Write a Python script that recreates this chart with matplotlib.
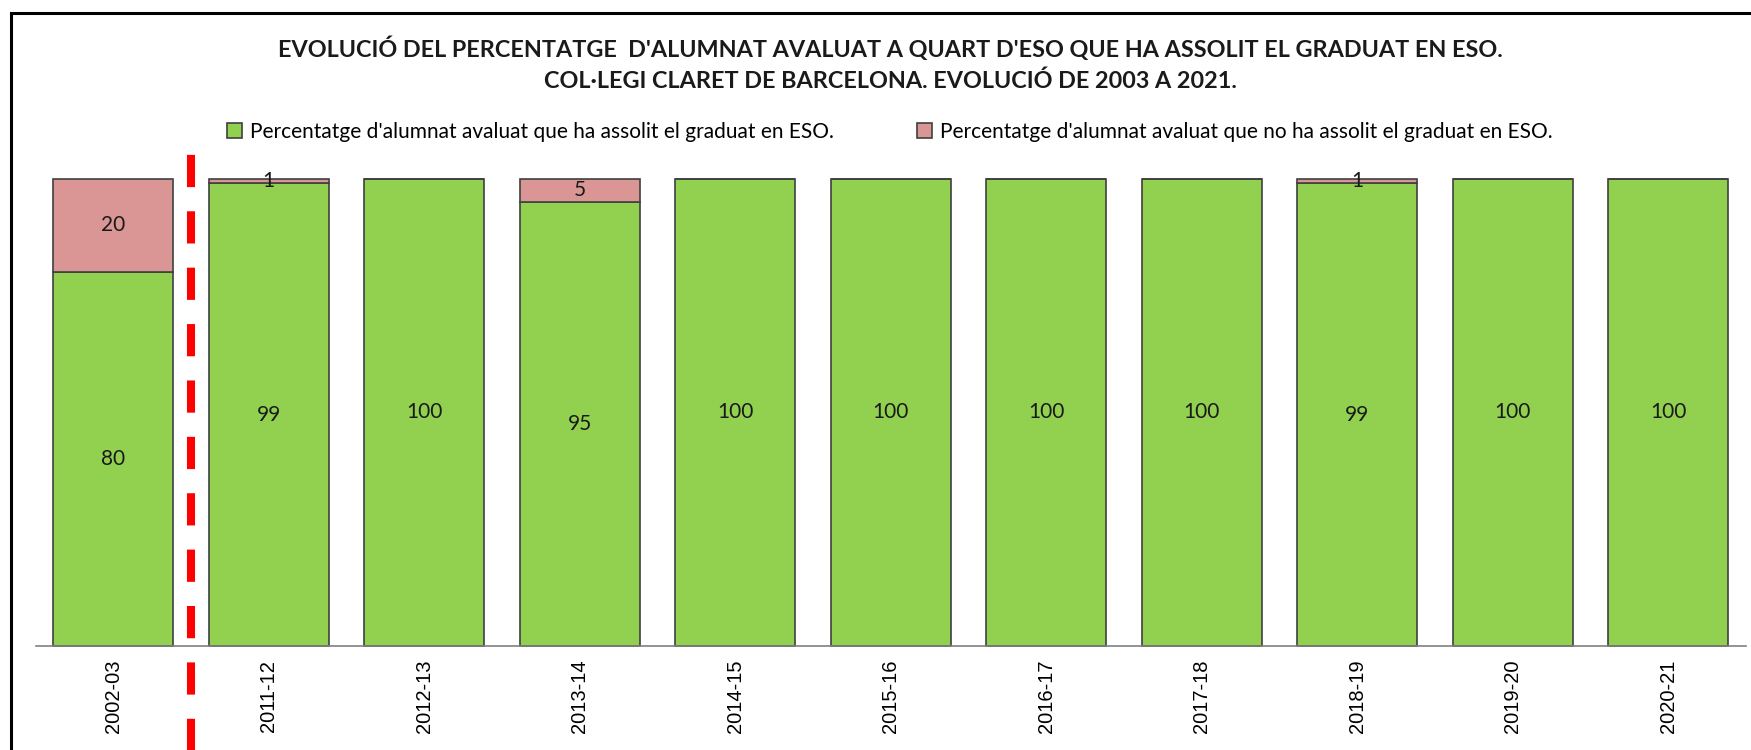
import numpy as np
import matplotlib
matplotlib.use('Agg')
import matplotlib.pyplot as plt
from matplotlib.patches import Rectangle

categories = ['2002-03', '2011-12', '2012-13', '2013-14', '2014-15', '2015-16',
              '2016-17', '2017-18', '2018-19', '2019-20', '2020-21']
graduated = [80, 99, 100, 95, 100, 100, 100, 100, 99, 100, 100]
not_graduated = [20, 1, 0, 5, 0, 0, 0, 0, 1, 0, 0]

title_lines = ["EVOLUCIÓ DEL PERCENTATGE  D'ALUMNAT AVALUAT A QUART D'ESO QUE HA ASSOLIT EL GRADUAT EN ESO.",
               "COL·LEGI CLARET DE BARCELONA. EVOLUCIÓ DE 2003 A 2021."]
legend_labels = ["Percentatge d'alumnat avaluat que ha assolit el graduat en ESO.",
                 "Percentatge d'alumnat avaluat que no ha assolit el graduat en ESO."]

green = '#92D050'
pink = '#DA9694'
edge = '#404040'
text_font = ['Lato', 'DejaVu Sans']

fig = plt.figure(figsize=(17.51, 7.5), dpi=100)
ax = fig.add_axes([0.0203, 0.1387, 0.9768, 0.623])

x = np.arange(len(categories))
b1 = ax.bar(x, graduated, width=0.77, color=green, edgecolor=edge, linewidth=1.2,
            label=legend_labels[0], clip_on=False)
b2 = ax.bar(x, not_graduated, width=0.77, bottom=graduated, color=pink, edgecolor=edge,
            linewidth=1.2, label=legend_labels[1], clip_on=False)

ax.bar_label(b1, labels=[str(v) if v else '' for v in graduated], label_type='center',
             fontsize=15, family=text_font, color='#1a1a1a')
ax.bar_label(b2, labels=[str(v) if v else '' for v in not_graduated], label_type='center',
             fontsize=15, family=text_font, color='#1a1a1a')

ax.set_xlim(-0.5, len(categories) - 0.5)
ax.set_ylim(0, 100)
ax.set_xticks(x)
ax.set_xticklabels(categories, rotation=90, fontsize=14.5, family='Liberation Sans')
ax.tick_params(axis='x', length=0, pad=10)
ax.set_yticks([])
for s in ['top', 'right', 'left']:
    ax.spines[s].set_visible(False)
ax.spines['bottom'].set_color('#808080')
ax.spines['bottom'].set_linewidth(1.2)

# red dashed separator between 2002-03 and 2011-12
ax.axvline(0.5, ymin=-0.25, ymax=1.056, color='#FF0000', linewidth=5.8,
           dashes=(4, 3), clip_on=False)

cx = 0.5083
fig.text(cx, 0.9347, title_lines[0], ha='center', va='center', fontsize=16.8,
         fontweight='bold', family=text_font, color='#1a1a1a')
fig.text(cx, 0.8913, title_lines[1], ha='center', va='center', fontsize=16.8,
         fontweight='bold', family=text_font, color='#1a1a1a')

fig.legend(handles=[b1, b2], labels=legend_labels, loc='center', ncol=2,
           bbox_to_anchor=(cx, 1 - 132 / 750), frameon=False,
           prop={'family': text_font, 'size': 15}, handlelength=0.7, handleheight=0.7,
           handletextpad=0.4, columnspacing=4.0)

# outer chart border (top and left only visible)
fig.patches.append(Rectangle((11 / 1751, -0.1), 1.2, 1.1 - 13 / 750, transform=fig.transFigure,
                             fill=False, edgecolor='black', linewidth=2.2))

fig.savefig('out.png', dpi=100)
